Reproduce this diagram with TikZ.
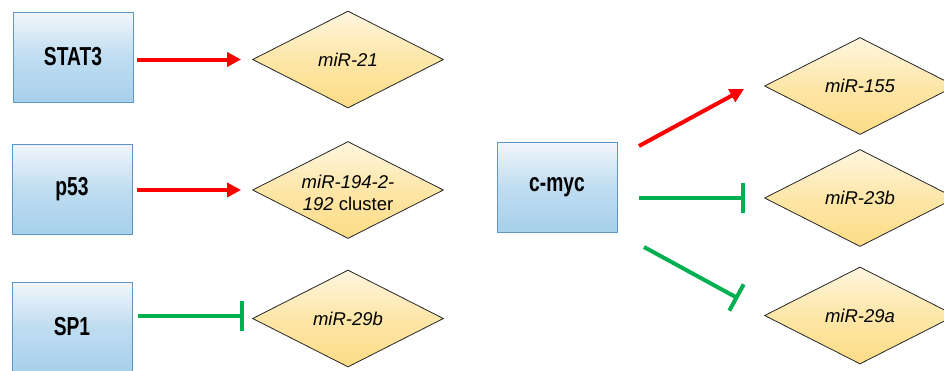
\documentclass[tikz,border=0pt]{standalone}
\usepackage{fontspec}
\setmainfont{Liberation Sans}
\newfontfamily\factorfont[FakeStretch=0.74]{Liberation Sans}
\usetikzlibrary{shapes.geometric,arrows.meta,calc}

\definecolor{boxtop}{HTML}{F2F6FB}
\definecolor{boxmid}{HTML}{BFDDF1}
\definecolor{boxbot}{HTML}{A7D0EB}
\definecolor{boxline}{HTML}{5E97C6}
\definecolor{mirtop}{HTML}{FFF6E0}
\definecolor{mirmid}{HTML}{FDE6A8}
\definecolor{mirbot}{HTML}{FCDC86}
\definecolor{actred}{HTML}{FF0000}
\definecolor{inhgreen}{HTML}{00B050}

\tikzset{
  factor/.style={rectangle, draw=boxline, line width=1pt,
    top color=boxtop, bottom color=boxbot, middle color=boxmid,
    minimum width=120pt, minimum height=90pt, inner sep=0pt,
    font=\factorfont\fontsize{26}{30}\selectfont\bfseries},
  mirna/.style={diamond, draw=black!85, line width=0.8pt,
    top color=mirtop, bottom color=mirbot, middle color=mirmid,
    minimum width=191pt, minimum height=97pt, inner sep=0pt},
  mirlabel/.style={align=center, inner sep=0pt,
    font=\fontsize{18.5}{22}\selectfont\itshape},
  activate/.style={draw=actred, line width=4pt,
    -{Triangle[length=14pt,width=14pt]}},
  inhibit/.style={draw=inhgreen, line width=4pt}
}
% inhibition: a line from #1 to #2 closed by a perpendicular bar at #2
\newcommand\inhibitline[2]{%
  \draw[inhibit] (#1) -- (#2);
  \draw[inhibit] ($(#2)!15pt!90:(#1)$) -- ($(#2)!15pt!-90:(#1)$);
}

\begin{document}
\begin{tikzpicture}[x=1pt,y=-1pt]
  \clip (0,0) rectangle (944,370);
  \useasboundingbox (0,0) rectangle (944,370);
  \fill[white] (0,0) rectangle (944,370);

  % transcription factors
  \node[factor] (stat3) at (73,57)   {STAT3};
  \node[factor] (p53)   at (72,189)  {p53};
  \node[factor] (sp1)   at (72,327)  {SP1};
  \node[factor] (cmyc)  at (557,187) {c-myc};

  % microRNA targets
  \node[mirna] (mir21)  at (348,59.5)  {};
  \node[mirna] (mir194) at (348,190)   {};
  \node[mirna] (mir29b) at (348,318.5) {};
  \node[mirna] (mir155) at (860,86)    {};
  \node[mirna] (mir23b) at (860,198)   {};
  \node[mirna] (mir29a) at (860,315.5) {};

  \node[mirlabel] (l21)  at (mir21)  {miR-21};
  \node[mirlabel] (l194) at ([yshift=-3pt]mir194.center) {miR-194-2-\\192 {\upshape cluster}};
  \node[mirlabel] (l29b) at (mir29b) {miR-29b};
  \node[mirlabel] (l155) at (mir155) {miR-155};
  \node[mirlabel] (l23b) at (mir23b) {miR-23b};
  \node[mirlabel] (l29a) at (mir29a) {miR-29a};

  % left-hand regulations
  \draw[activate, shorten <=3pt, shorten >=11pt]
    (stat3.east |- mir21.west) -- (mir21.west);
  \draw[activate, shorten <=4pt, shorten >=11pt]
    (p53.east |- mir194.west) -- (mir194.west);
  \coordinate (s1) at ([xshift=5pt,yshift=3pt]sp1.east |- mir29b.west);
  \coordinate (s2) at ([xshift=-10pt,yshift=3pt]mir29b.west);
  \inhibitline{s1}{s2}

  % c-myc regulations
  \coordinate (c1) at (639,146);
  \coordinate (c2) at (639,198);
  \coordinate (c3) at (644,247);
  \coordinate (t1) at (744,89);
  \coordinate (t2) at (743,198);
  \coordinate (t3) at (736.5,297.5);
  \draw[activate] (c1) -- (t1);
  \inhibitline{c2}{t2}
  \inhibitline{c3}{t3}
\end{tikzpicture}
\end{document}
